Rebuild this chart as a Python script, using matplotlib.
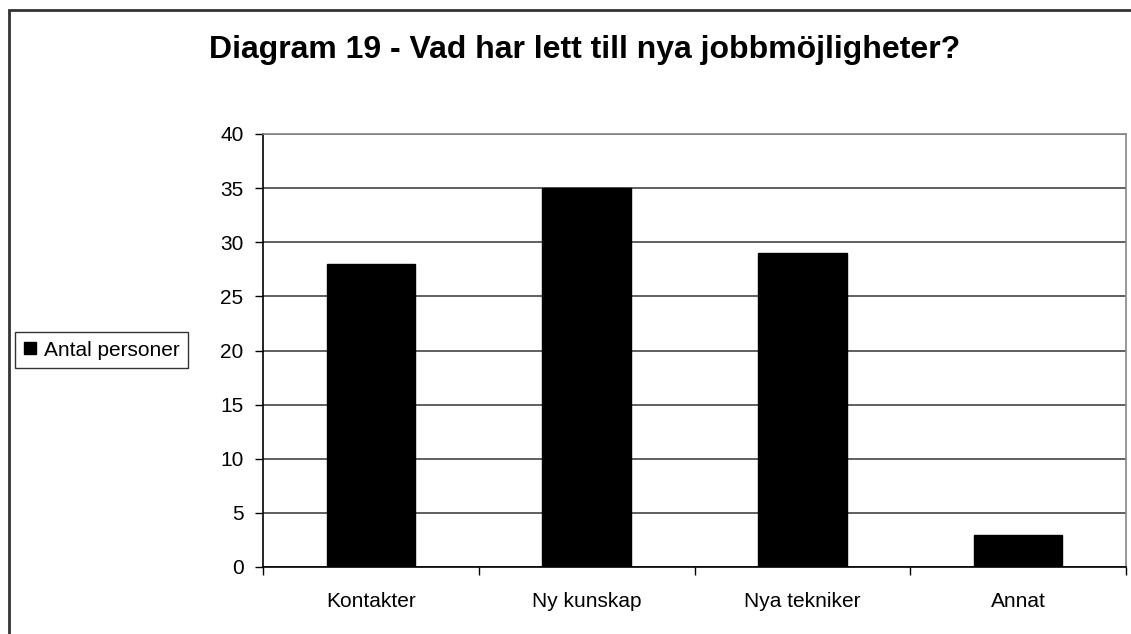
import matplotlib.pyplot as plt
from matplotlib.patches import Rectangle
from matplotlib.lines import Line2D

plt.rcParams['font.family'] = ['Liberation Sans', 'DejaVu Sans']

# data
categories = ['Kontakter', 'Ny kunskap', 'Nya tekniker', 'Annat']
values = [28, 35, 29, 3]
series_name = 'Antal personer'
title = 'Diagram 19 - Vad har lett till nya jobbmöjligheter?'

W, H = 1131, 634
fig = plt.figure(figsize=(W / 100, H / 100), dpi=100)

# outer chart frame (cut off at right and bottom)
fig.patches.append(Rectangle((9 / W, -0.1), 1.2, 1 - 10 / H + 0.1, transform=fig.transFigure,
                             fill=False, edgecolor='#333333', linewidth=2))

left, right, top, bottom = 263, 1126, 134, 567
ax = fig.add_axes([left / W, 1 - bottom / H, (right - left) / W, (bottom - top) / H])

x = range(len(categories))
ax.bar(x, values, width=0.41, color='black', edgecolor='black', zorder=3, label=series_name)

ax.set_xlim(-0.5, len(categories) - 0.5)
ax.set_ylim(0, 40)
ax.set_yticks(range(0, 41, 5))
ax.tick_params(axis='y', direction='out', length=6, width=1, labelsize=15, pad=8, colors='black')
ax.set_xticks(list(x))
ax.set_xticklabels(categories, fontsize=15)
ax.tick_params(axis='x', length=0, pad=18)
# category boundary ticks
ax.set_xticks([i - 0.5 for i in range(len(categories) + 1)], minor=True)
ax.tick_params(axis='x', which='minor', direction='out', length=6, width=1)

ax.grid(axis='y', color='#444444', linewidth=1.2, zorder=1)
ax.set_axisbelow(True)
ax.spines['left'].set_color('black')
ax.spines['bottom'].set_color('black')
ax.spines['top'].set_color('#888888')
ax.spines['right'].set_color('#888888')
for s in ax.spines.values():
    s.set_linewidth(1.2)

fig.text(585 / W, 1 - 50 / H, title, ha='center', va='center', fontsize=23, fontweight='bold')

handle = Line2D([], [], marker='s', color='black', linestyle='none', markersize=9)
fig.legend([handle], [series_name], loc='center left', bbox_to_anchor=(15 / W, 1 - 350 / H),
           frameon=True, fancybox=False, edgecolor='black', fontsize=15,
           handlelength=0.6, handletextpad=0.4, borderpad=0.4, borderaxespad=0)

fig.savefig('out.png', dpi=100)
